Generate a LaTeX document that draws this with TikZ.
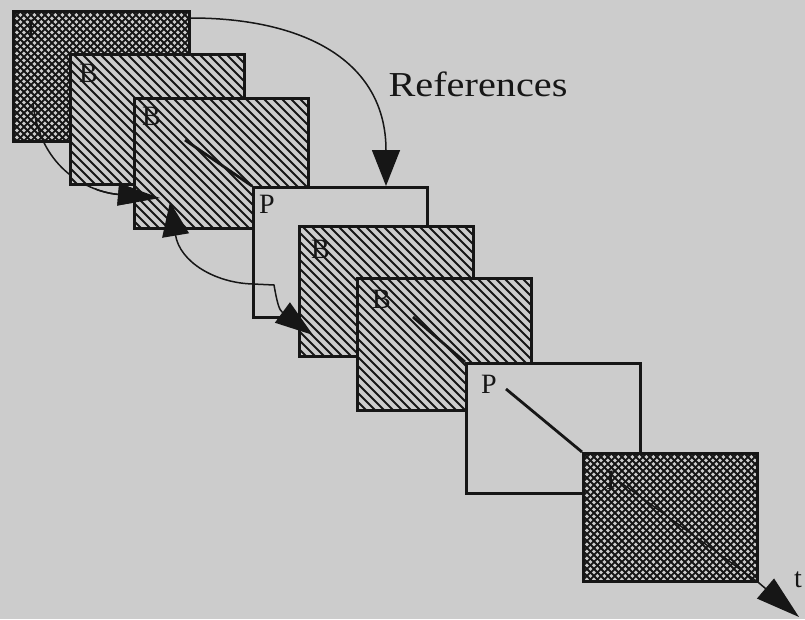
\documentclass[tikz,border=0pt]{standalone}
\usepackage{fontspec}
\setmainfont{Liberation Serif}
\usetikzlibrary{arrows.meta,calc}
\definecolor{bg}{RGB}{204,204,204}
\definecolor{ink}{RGB}{22,22,22}
\begin{document}
\begin{tikzpicture}[x=1pt,y=-1pt,
  frame/.style={draw=ink,line width=2.8pt,rectangle,inner sep=0pt,anchor=north west,
     minimum width=174pt,minimum height=130pt,fill=bg},
  iframe/.style={frame,path picture={
     \foreach \k in {-147,-140,...,190}{
       \draw[ink,line width=1.8pt] ($(path picture bounding box.north west)+(\k,0)$) -- +(150,150);}
     \foreach \k in {0,7,...,340}{
       \draw[ink,line width=1.8pt] ($(path picture bounding box.north west)+(\k,0)$) -- +(-150,150);}}},
  bframe/.style={frame,path picture={
     \foreach \k in {-150,-141,...,190}{
       \draw[ink,line width=1.8pt] ($(path picture bounding box.north west)+(\k,0)$) -- +(150,150);}}},
  pframe/.style={frame},
  lbl/.style={font=\fontsize{28}{28}\selectfont,text=ink,inner sep=0pt,anchor=base west},
  conn/.style={draw=ink,line width=1.5pt},
  tline/.style={draw=ink,line width=2.8pt}
]
\useasboundingbox (0,0) rectangle (805,619);
\fill[bg] (0,0) rectangle (805,619);

% I frame
\node[iframe,minimum width=176pt] (I1) at (12,10) {};
\node[lbl] (lI1) at (26,38) {I};
% curve from I towards B2 (behind B1)
\coordinate (c1s) at (33,103);
\coordinate (c1e) at (160,198);
\draw[conn,-{Triangle[length=42pt,width=22pt]}] (c1s) .. controls +(7,67) and +(-70,-6) .. (c1e);

% B frames
\node[bframe] (B1) at (69,53) {};
\node[lbl] (lB1) at (79,82) {B};
\node[bframe] (B2) at (133,97) {};
\node[lbl] (lB2) at (142,125) {B};
\coordinate (s1) at (185,140);
\draw[tline] (s1) -- (252,186);
% arrowhead of curve over B2
\begin{scope}
  \clip (95,184) rectangle (200,240);
  \draw[conn,-{Triangle[length=42pt,width=22pt]}] (c1s) .. controls +(7,67) and +(-70,-6) .. (c1e);
\end{scope}

% P frame
\node[pframe] (P1) at (252,186) {};
\node[lbl] (lP1) at (259,213) {P};

% B3
\node[bframe] (B3) at (298,225) {};
\node[lbl] (lB3) at (311,258) {B};

% double arrow from B2 through P1 to B3
\coordinate (a2s) at (170,202);
\coordinate (a2j) at (253,284);
\coordinate (a2k) at (274,285);
\coordinate (a2e) at (313,335);
\draw[conn,{Triangle[length=34pt,width=27pt]}-{Triangle[length=38pt,width=25pt]}]
  (a2s) .. controls (180,262) and (215,283) .. (a2j) -- (a2k)
  .. controls (277,302) and (279,310) .. (a2e);

% B4
\node[bframe,minimum height=132pt] (B4) at (356,277) {};
\node[lbl] (lB4) at (372,308) {B};
\coordinate (s2) at (413,317);

% P2
\node[pframe] (P2) at (465,362) {};
\node[lbl] (lP2) at (481,393) {P};
\draw[tline] (s2) -- (P2.north west);
\coordinate (s3) at (506,389);

% I2
\node[iframe,minimum height=128pt] (I2) at (582,452) {};
\node[lbl] (lI2) at (606,489) {I};
\draw[tline] (s3) -- (I2.north west);
\coordinate (s4) at (620,482);
\coordinate (tend) at (799,617);
\draw[conn,-{Triangle[length=44pt,width=26pt]}] (s4) -- (I2.south east) -- (tend);

% references arrow
\draw[conn,-{Triangle[length=36pt,width=28pt]}] (I1.north east) ++(0,8) coordinate (r0)
  .. controls +(112,0) and +(0,-126) .. ($(P1.north west)+(134,0)$);

\node[font=\fontsize{35}{35}\selectfont,text=ink,inner sep=0pt] (ref) at (478,84) {\scalebox{1.15}[1]{References}};
\node[lbl] (t) at (794,587) {t};
\end{tikzpicture}
\end{document}
